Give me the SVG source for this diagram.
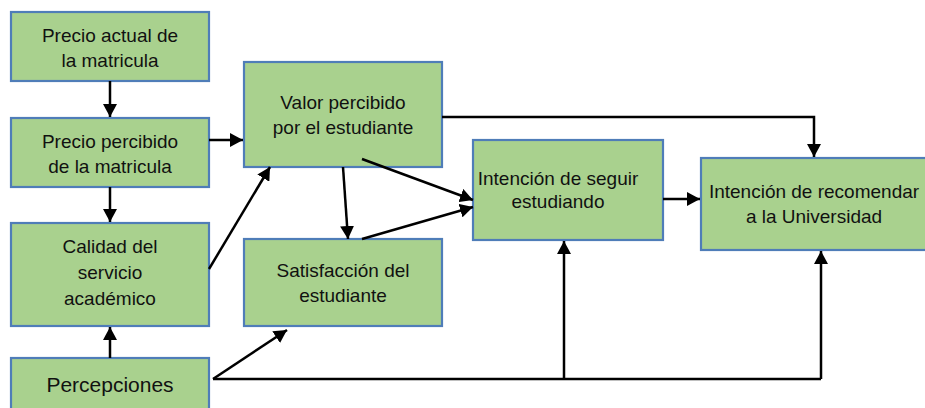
<svg xmlns="http://www.w3.org/2000/svg" width="925" height="408" viewBox="0 0 925 408">
<defs>
<marker id="ah" markerUnits="userSpaceOnUse" viewBox="0 0 13 14" markerWidth="13" markerHeight="14" refX="13" refY="7" orient="auto">
<path d="M0,0 L13,7 L0,14 z" fill="#000"/>
</marker>
<style>
.box{fill:#a9d18e;stroke:#4f7db8;stroke-width:2.2}
.t{font-family:"Liberation Sans",Arial,sans-serif;font-size:19px;fill:#111;text-anchor:middle}
.c{fill:none;stroke:#000;stroke-width:2.5}
.a{marker-end:url(#ah)}
</style>
</defs>
<rect width="925" height="408" fill="#fff"/>
<g id="n1"><rect class="box" x="11" y="12" width="198" height="69"/><text class="t" x="110" y="42">Precio actual de</text><text class="t" x="110" y="67">la matricula</text></g>
<g id="n2"><rect class="box" x="11" y="118" width="198" height="69"/><text class="t" x="110" y="148">Precio percibido</text><text class="t" x="110" y="173">de la matricula</text></g>
<g id="n3"><rect class="box" x="11" y="223" width="198" height="103"/><text class="t" x="110" y="253">Calidad del</text><text class="t" x="110" y="279">servicio</text><text class="t" x="110" y="305">académico</text></g>
<g id="n4"><rect class="box" x="11" y="358" width="198" height="56"/><text class="t" x="110" y="392" style="font-size:21px">Percepciones</text></g>
<g id="n5"><rect class="box" x="244" y="62" width="198" height="105"/><text class="t" x="343" y="109">Valor percibido</text><text class="t" x="343" y="134">por el estudiante</text></g>
<g id="n6"><rect class="box" x="244" y="239" width="198" height="87"/><text class="t" x="343" y="277">Satisfacción del</text><text class="t" x="343" y="302">estudiante</text></g>
<g id="n7"><rect class="box" x="473" y="140" width="190" height="100"/><text class="t" x="558" y="185">Intención de seguir</text><text class="t" x="558" y="208">estudiando</text></g>
<g id="n8"><rect class="box" x="701" y="158" width="228" height="92"/><text class="t" x="814" y="198">Intención de recomendar</text><text class="t" x="814" y="223">a la Universidad</text></g>
<g id="connectors">
<line class="c a" x1="110" y1="81" x2="110" y2="117"/>
<line class="c a" x1="110" y1="187" x2="110" y2="222"/>
<line class="c a" x1="110" y1="358" x2="110" y2="327"/>
<line class="c a" x1="209" y1="140" x2="243" y2="140"/>
<line class="c a" x1="209" y1="269" x2="270" y2="167"/>
<line class="c a" x1="343" y1="167" x2="348" y2="239"/>
<line class="c a" x1="362" y1="159" x2="473" y2="200"/>
<line class="c a" x1="362" y1="239" x2="473" y2="207"/>
<polyline class="c a" points="442,117 814,117 814,157"/>
<line class="c a" x1="663" y1="199" x2="700" y2="199"/>
<line class="c a" x1="213" y1="379" x2="287" y2="330"/>
<polyline class="c" points="213,379 821,379"/>
<line class="c a" x1="564" y1="379" x2="564" y2="241"/>
<line class="c a" x1="821" y1="379" x2="821" y2="251"/>
</g>
</svg>
